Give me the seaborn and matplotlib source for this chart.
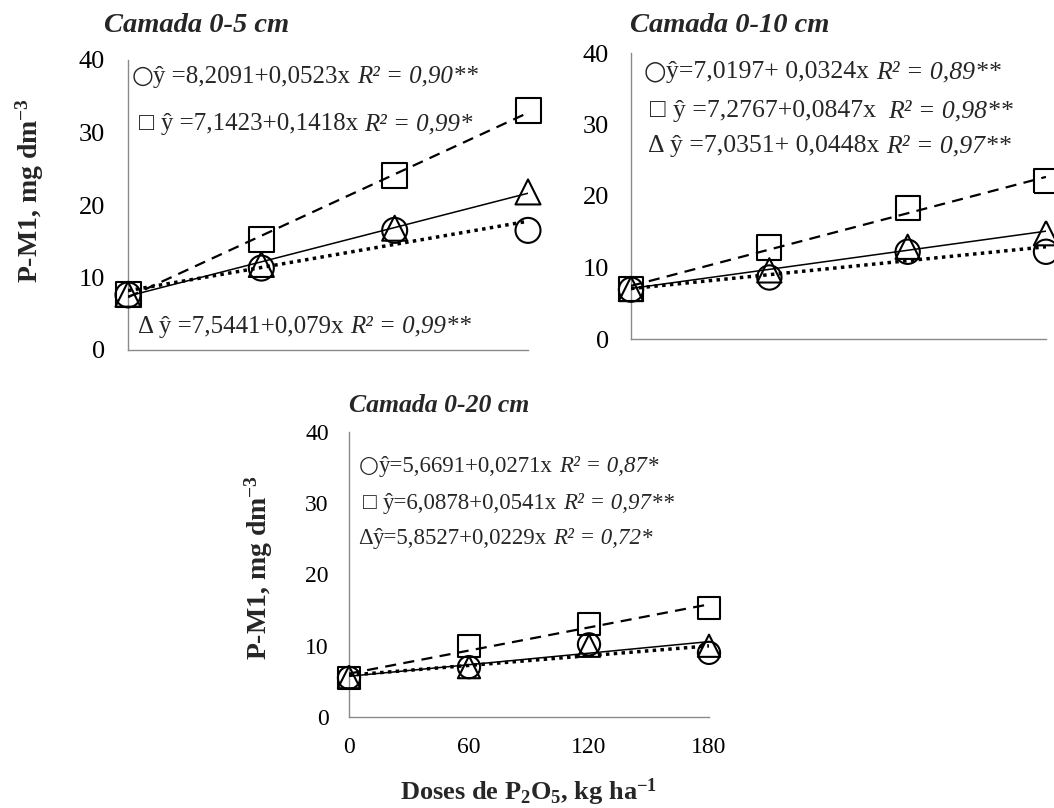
import matplotlib
matplotlib.use("Agg")
import matplotlib.pyplot as plt
import seaborn as sns
import pandas as pd

# ---------------- data ----------------
doses = [0, 60, 120, 180]
x_ticks = [0, 60, 120, 180]
y_ticks = [0, 10, 20, 30, 40]

# Camada 0-5 cm
circ_05 = [7.6, 11.3, 16.5, 16.5]
sq_05 = [7.7, 15.2, 24.1, 33.0]
tri_05 = [7.7, 11.8, 16.8, 21.8]
# Camada 0-10 cm
circ_10 = [6.9, 8.6, 12.2, 12.2]
sq_10 = [7.0, 12.8, 18.3, 22.1]
tri_10 = [7.0, 9.6, 12.9, 14.8]
# Camada 0-20 cm
circ_20 = [5.5, 7.0, 10.2, 9.0]
sq_20 = [5.5, 10.0, 13.0, 15.3]
tri_20 = [5.6, 7.0, 10.0, 10.0]

titles = ["Camada 0-5 cm", "Camada 0-10 cm", "Camada 0-20 cm"]

symbols = ["○", "□ ", "Δ "]
symbols_20 = ["○", "□ ", "Δ"]
eq_05 = [("ŷ =8,2091+0,0523x", "R² = 0,90**"),
         ("ŷ =7,1423+0,1418x", "R² = 0,99*"),
         ("ŷ =7,5441+0,079x", "R² = 0,99**")]
eq_10 = [("ŷ=7,0197+ 0,0324x", "R² = 0,89**"),
         ("ŷ =7,2767+0,0847x ", "R² = 0,98**"),
         ("ŷ =7,0351+ 0,0448x", "R² = 0,97**")]
eq_20 = [("ŷ=5,6691+0,0271x", "R² = 0,87*"),
         ("ŷ=6,0878+0,0541x", "R² = 0,97**"),
         ("ŷ=5,8527+0,0229x", "R² = 0,72*")]

ylabel = r"P-M1, mg dm$^{\mathbf{-3}}$"
xlabel = r"Doses de P$_{\mathbf{2}}$O$_{\mathbf{5}}$, kg ha$^{\mathbf{-1}}$"

# ---------------- style ----------------
sns.set_style("white")
plt.rcParams["font.family"] = ["Liberation Serif", "DejaVu Serif"]
plt.rcParams["mathtext.fontset"] = "custom"
plt.rcParams["mathtext.rm"] = "Liberation Serif"
plt.rcParams["mathtext.bf"] = "Liberation Serif:bold"
plt.rcParams["mathtext.it"] = "Liberation Serif:italic"

W, H = 1054, 808
fig = plt.figure(figsize=(W / 100, H / 100), dpi=100)
fig.patch.set_facecolor("white")

GRAY = "#8a8a8a"


def axes_px(left, top, right, bottom):
    return fig.add_axes([left / W, 1 - bottom / H, (right - left) / W, (bottom - top) / H])


def draw_panel(ax, circ, sq, tri, msize, tick_fs, pad, show_xlabels):
    series = [
        (circ, "o", (0, (1.0, 1.25)), 2.5),
        (sq, "s", (0, (5.0, 3.3)), 1.6),
        (tri, "^", "-", 1.1),
    ]
    for vals, mk, ls, lw in series:
        df = pd.DataFrame({"dose": doses, "valor": vals})
        sns.regplot(data=df, x="dose", y="valor", ax=ax, ci=None, marker=mk,
                    truncate=True,
                    scatter_kws=dict(s=msize ** 2, facecolors="none", edgecolors="black",
                                     linewidths=1.5, alpha=1, clip_on=False, zorder=3),
                    line_kws=dict(color="black", linestyle=ls, linewidth=lw, zorder=4))
    ax.set_xlim(0, 180)
    ax.set_ylim(0, 40)
    ax.set_xticks(x_ticks)
    ax.set_yticks(y_ticks)
    ax.set_xlabel("")
    ax.set_ylabel("")
    for s in ["top", "right"]:
        ax.spines[s].set_visible(False)
    for s in ["left", "bottom"]:
        ax.spines[s].set_color(GRAY)
        ax.spines[s].set_linewidth(1.0)
    ax.tick_params(direction="in", length=3.8, width=1.0, color=GRAY,
                   labelsize=tick_fs, pad=pad, labelcolor="black")
    ax.tick_params(axis="x", labelbottom=show_xlabels)
    ax.set_facecolor("none")


def eq_text(ax, xf, yf, sym, normal, italic, fs):
    if sym.startswith("○"):
        t0 = ax.text(xf, yf, sym, transform=ax.transAxes, fontsize=fs * 1.0,
                     va="baseline", ha="left", family=["DejaVu Sans"])
    else:
        t0 = ax.text(xf, yf, sym, transform=ax.transAxes, fontsize=fs,
                     va="baseline", ha="left")
    t1 = ax.annotate(normal, xy=(1, yf), xycoords=(t0, ax.transAxes),
                     xytext=(0.3, 0), textcoords="offset points",
                     va="baseline", ha="left", fontsize=fs)
    ax.annotate(italic, xy=(1, yf), xycoords=(t1, ax.transAxes),
                xytext=(fs * 0.25, 0), textcoords="offset points",
                va="baseline", ha="left", fontsize=fs, style="italic")


# top-left: 0-5 cm
ax1 = axes_px(128, 60, 528, 350)
draw_panel(ax1, circ_05, sq_05, tri_05, 18, 19, 16.5, False)
for s, (n, it), (xf, yf) in zip(symbols, eq_05, [(0.008, 0.922), (0.027, 0.757), (0.025, 0.060)]):
    eq_text(ax1, xf, yf, s, n, it, 18)

# top-right: 0-10 cm
ax2 = axes_px(631, 53, 1046, 339)
draw_panel(ax2, circ_10, sq_10, tri_10, 17.5, 19, 16, False)
for s, (n, it), (xf, yf) in zip(symbols, eq_10, [(0.030, 0.912), (0.046, 0.775), (0.041, 0.653)]):
    eq_text(ax2, xf, yf, s, n, it, 18.5)

# bottom: 0-20 cm
ax3 = axes_px(349, 432, 709, 717)
draw_panel(ax3, circ_20, sq_20, tri_20, 16, 17, 14.5, True)
for s, (n, it), (xf, yf) in zip(symbols_20, eq_20, [(0.027, 0.860), (0.039, 0.730), (0.025, 0.608)]):
    eq_text(ax3, xf, yf, s, n, it, 16.5)

# titles
fig.text(104 / W, 1 - 25 / H, titles[0], ha="left", va="center", fontsize=20.5,
         fontweight="bold", style="italic")
fig.text(630 / W, 1 - 25 / H, titles[1], ha="left", va="center", fontsize=20.5,
         fontweight="bold", style="italic")
fig.text(349 / W, 1 - 405 / H, titles[2], ha="left", va="center", fontsize=18.5,
         fontweight="bold", style="italic")

# y labels
fig.text(30 / W, 1 - 190 / H, ylabel, rotation=90, ha="center", va="center",
         fontsize=20, fontweight="bold")
fig.text(259 / W, 1 - 567 / H, ylabel, rotation=90, ha="center", va="center",
         fontsize=20, fontweight="bold")

# x label
fig.text(529 / W, 1 - 792 / H, xlabel, ha="center", va="center", fontsize=19,
         fontweight="bold")

fig.savefig("out.png", dpi=100, facecolor="white")
